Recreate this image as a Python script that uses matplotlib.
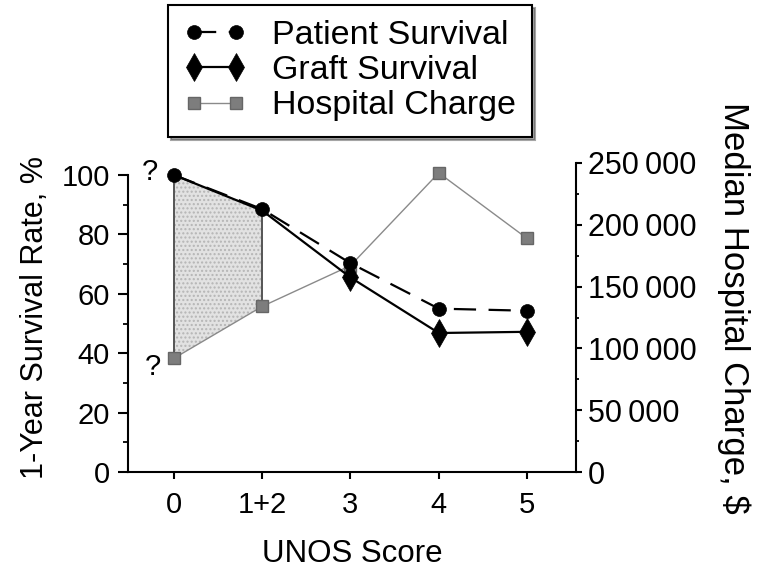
import matplotlib
matplotlib.use("Agg")
import matplotlib.pyplot as plt
from matplotlib.lines import Line2D
import numpy as np

plt.rcParams['font.family'] = ['Liberation Sans', 'DejaVu Sans']
plt.rcParams['lines.scale_dashes'] = False

categories = ["0", "1+2", "3", "4", "5"]
patient_survival = [100, 88.5, 70.3, 55, 54.3]
graft_survival = [100, 88, 65.5, 46.8, 47.2]
hospital_charge = [92000, 134000, 167000, 242000, 189000]
left_ticks = [0, 20, 40, 60, 80, 100]
right_ticks = [0, 50000, 100000, 150000, 200000, 250000]
right_tick_labels = ["0", "50\u2009000", "100\u2009000", "150\u2009000", "200\u2009000", "250\u2009000"]

x = np.arange(len(categories))

fig = plt.figure(figsize=(7.59, 5.72), dpi=100)
ax = fig.add_axes([128/759, 1-472/572, 448/759, 309/572])
ax2 = ax.twinx()
ax.set_zorder(ax2.get_zorder() + 1)
ax.patch.set_visible(False)

L_TOP = 100 * 309 / 297
R_TOP = 250000
ax.set_ylim(0, L_TOP)
ax2.set_ylim(0, R_TOP)
ax.set_xlim(-0.521, 4.555)

# shaded region between patient survival and hospital charge (first two categories)
scale = R_TOP / L_TOP
top_edge = np.array(patient_survival[:2]) * scale
ax2.fill_between(x[:2], hospital_charge[:2], top_edge, facecolor='#e2e2e2',
                 edgecolor='#b5b5b5', hatch='....', linewidth=0, zorder=1)
ax2.vlines(x[:2], hospital_charge[:2], top_edge, color='#555555', lw=1.4, zorder=2)

# hospital charge
lh, = ax2.plot(x, hospital_charge, color='#8a8a8a', lw=1.0, marker='s', markersize=8,
               markerfacecolor='#7d7d7d', markeredgecolor='#666666', zorder=3,
               label='Hospital Charge')

# survival lines (graft markers hidden under patient markers where they coincide)
graft_style = dict(color='black', lw=1.6, marker='d', markersize=14,
                   markerfacecolor='black', markeredgewidth=0.5)
ax.plot(x, graft_survival, color='black', lw=1.6, zorder=4)
ax.plot(x[2:], graft_survival[2:], linestyle='none', marker='d', markersize=14,
        color='black', markeredgewidth=0.5, zorder=4)
lg = Line2D([], [], label='Graft Survival', **graft_style)
lp, = ax.plot(x, patient_survival, color='black', lw=1.6, dashes=(16, 9), marker='o',
              markersize=10, markerfacecolor='black', markeredgewidth=0.5,
              label='Patient Survival', zorder=5)

# question marks
ax.annotate('?', (x[0], patient_survival[0]), xytext=(-17, 2), textcoords='offset points',
            ha='center', va='center', fontsize=21)
ax2.annotate('?', (x[0], hospital_charge[0]), xytext=(-15, -6), textcoords='offset points',
             ha='center', va='center', fontsize=21)

# spines
ax.spines['top'].set_visible(False)
ax2.spines['top'].set_visible(False)
ax.spines['right'].set_visible(False)
ax2.spines['left'].set_visible(False)
ax2.spines['bottom'].set_visible(False)
ax.spines['left'].set_bounds(0, 100)
ax2.spines['right'].set_bounds(0, 250000)
for sp in [ax.spines['left'], ax.spines['bottom'], ax2.spines['right']]:
    sp.set_linewidth(1.5)

ax.set_xticks(x)
ax.set_xticklabels(categories)
ax.set_yticks(left_ticks)
ax.set_yticks(np.arange(10, 100, 20), minor=True)
ax2.set_yticks(right_ticks)
ax2.set_yticklabels(right_tick_labels)
ax2.set_yticks(np.arange(25000, 250000, 50000), minor=True)

ax.tick_params(axis='y', which='major', length=7, width=1.5, labelsize=21, pad=6, direction='out')
ax.tick_params(axis='y', which='minor', length=3.5, width=1.3, direction='out')
ax.tick_params(axis='x', which='major', length=5, width=1.5, labelsize=21, pad=9, direction='out')
ax2.tick_params(axis='y', which='major', length=4.5, width=1.5, labelsize=22, pad=4, direction='out')
ax2.tick_params(axis='y', which='minor', length=2.5, width=1.3, direction='out')

ax.set_xlabel('UNOS Score', fontsize=22.5, labelpad=14)
ax.set_ylabel('1-Year Survival Rate, %', fontsize=22, labelpad=8)
ax2.set_ylabel('Median Hospital Charge, $', fontsize=25, rotation=270, labelpad=39)
ax2.yaxis.label.set_y(0.53)

leg = fig.legend(handles=[lp, lg, lh], loc='upper left', bbox_to_anchor=(168/759, 1-5/572),
                 numpoints=2, fontsize=24.5, frameon=True, fancybox=False, shadow=True,
                 handlelength=1.86, handletextpad=0.76, labelspacing=0.12, borderpad=0.45,
                 borderaxespad=0)
leg.get_frame().set_edgecolor('black')
leg.get_frame().set_linewidth(1.5)

fig.savefig('out.png', dpi=100)
